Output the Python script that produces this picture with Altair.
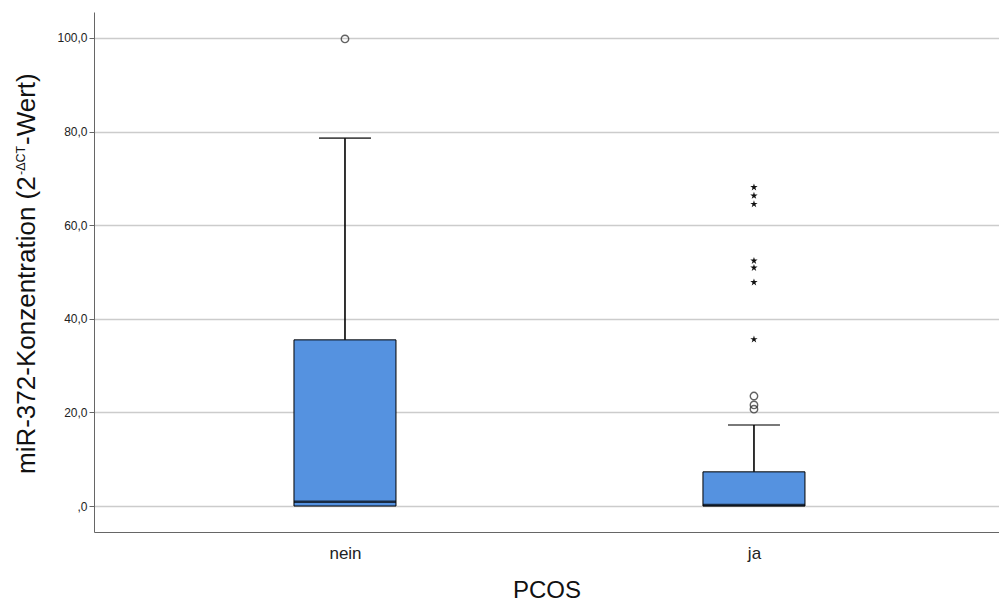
import altair as alt
import pandas as pd

# ---- data ----
groups = ["nein", "ja"]
whisker_low = [0.0, 0.0]
q1 = [0.0, 0.0]
median = [0.9, 0.2]
q3 = [35.5, 7.3]
whisker_high = [78.6, 17.3]

circle_groups = ["nein", "ja", "ja", "ja"]
circle_values = [99.8, 23.5, 21.6, 20.7]

star_groups = ["ja", "ja", "ja", "ja", "ja", "ja", "ja"]
star_values = [68.1, 66.3, 64.5, 52.4, 50.9, 47.8, 35.6]

title_parts = ["miR-372-Konzentration (2", "-ΔCT", "-Wert)"]

# ---- tables ----
summary = pd.DataFrame({
    "PCOS": groups, "wl": whisker_low, "q1": q1, "med": median,
    "q3": q3, "wh": whisker_high,
})
circles = pd.DataFrame({"PCOS": circle_groups, "v": circle_values})
stars = pd.DataFrame({"PCOS": star_groups, "v": star_values})

FONT = "Liberation Sans"
xscale = alt.Scale(type="point", domain=groups, padding=0.6064, align=0.506)
yscale = alt.Scale(domain=[-5.55, 105.55], nice=False, zero=False)

x_enc = alt.X("PCOS:N", scale=xscale, sort=groups,
              axis=alt.Axis(title="PCOS", labelAngle=0, ticks=False,
                            labelFontSize=17, labelFont=FONT, labelColor="#222222",
                            labelPadding=13, titleFont=FONT, titleFontSize=24,
                            titleFontWeight="normal", titleColor="#111111",
                            titlePadding=17, domainColor="#666666", grid=False))

y_axis = alt.Axis(title=None, values=[0, 20, 40, 60, 80, 100],
                  labelExpr="datum.value == 0 ? ',0' : replace(format(datum.value, '.1f'), '.', ',')",
                  labelFont=FONT, labelFontSize=12, labelColor="#222222",
                  labelPadding=2, tickSize=5, tickColor="#666666",
                  domainColor="#666666", grid=True, gridColor="#cccccc",
                  gridWidth=1.5)

base = alt.Chart(summary)

box = base.mark_bar(size=102, color="#5592e0", stroke="#000000",
                    strokeWidth=1).encode(
    x=x_enc,
    y=alt.Y("q1:Q", scale=yscale, axis=y_axis),
    y2="q3:Q",
)

whisk_hi = base.mark_rule(color="#000000", strokeWidth=1.6).encode(
    x=alt.X("PCOS:N", scale=xscale, sort=groups), y="q3:Q", y2="wh:Q")
whisk_lo = base.mark_rule(color="#000000", strokeWidth=1.6).encode(
    x=alt.X("PCOS:N", scale=xscale, sort=groups), y="wl:Q", y2="q1:Q")

cap_hi = base.mark_tick(size=52, thickness=1.6, color="#000000").encode(
    x=alt.X("PCOS:N", scale=xscale, sort=groups), y="wh:Q")

med = base.mark_tick(size=102, thickness=2.5, color="#000000").encode(
    x=alt.X("PCOS:N", scale=xscale, sort=groups), y="med:Q")

circ = alt.Chart(circles).mark_point(shape="circle", filled=False, size=55,
                                     color="#222222", strokeWidth=1.4).encode(
    x=alt.X("PCOS:N", scale=xscale, sort=groups), y=alt.Y("v:Q"))

STAR = ("M0,-1L0.223,-0.307L0.951,-0.309L0.361,0.117L0.588,0.809L0,0.38"
        "L-0.588,0.809L-0.361,0.117L-0.951,-0.309L-0.223,-0.307Z")
star = alt.Chart(stars).mark_point(shape=STAR, filled=True, size=60,
                                   color="#111111", opacity=1).encode(
    x=alt.X("PCOS:N", scale=xscale, sort=groups), y=alt.Y("v:Q"))

# y-axis title composed of pieces (superscript part smaller)
t1 = alt.Chart(pd.DataFrame({"t": [title_parts[0]]})).mark_text(
    angle=270, align="left", baseline="alphabetic", font=FONT,
    fontSize=26, color="#111111").encode(
    text="t:N", x=alt.value(-59), y=alt.value(462))
t2 = alt.Chart(pd.DataFrame({"t": [title_parts[1]]})).mark_text(
    angle=270, align="left", baseline="alphabetic", font=FONT,
    fontSize=12.5, color="#111111").encode(
    text="t:N", x=alt.value(-69), y=alt.value(163))
t3 = alt.Chart(pd.DataFrame({"t": [title_parts[2]]})).mark_text(
    angle=270, align="left", baseline="alphabetic", font=FONT,
    fontSize=26, color="#111111").encode(
    text="t:N", x=alt.value(-59), y=alt.value(133))

chart = alt.layer(box, whisk_hi, whisk_lo, cap_hi, med, circ, star, t1, t2, t3).properties(
    width=905, height=520,
    autosize=alt.AutoSizeParams(type="none"),
    padding={"left": 94, "top": 12, "right": 0, "bottom": 71},
    background="#ffffff",
).configure_view(stroke=None)

chart.save("out.html", embed_options={"renderer": "svg", "actions": False})
